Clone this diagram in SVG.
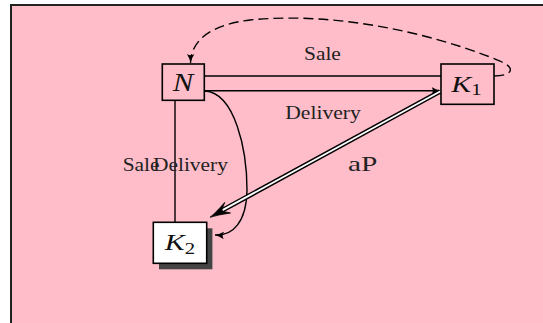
<svg xmlns="http://www.w3.org/2000/svg" width="543" height="323" viewBox="0 0 543 323">
<style>
.box{stroke:#000;stroke-width:1.6}
.ln{fill:none;stroke:#000;stroke-width:1.4}
.lbl{font-family:"Liberation Serif","Times New Roman",serif;font-size:18px;fill:#222}
.math{font-family:"Liberation Serif","Times New Roman",serif;font-style:italic;fill:#111}
.sub{font-style:normal}
</style>
<defs>
<marker id="arr" markerUnits="userSpaceOnUse" viewBox="0 0 10 10" refX="10" refY="5" markerWidth="9" markerHeight="9" orient="auto">
<path d="M0,0.8 Q5,4 10,5 Q5,6 0,9.2 Q3,5 0,0.8 Z" fill="#000"/>
</marker>
</defs>
<rect x="0" y="0" width="543" height="323" fill="#fff"/>
<rect id="frame" x="11" y="5" width="600" height="400" fill="#FFBDC9" stroke="#222" stroke-width="2"/>
<g id="connectors">
<line class="ln" x1="204" y1="76" x2="441" y2="76"/>
<line class="ln" x1="204" y1="90.7" x2="440.5" y2="90.7" marker-end="url(#arr)"/>
<line class="ln" x1="175" y1="100" x2="175" y2="222.3"/>
<path class="ln" d="M205,91 C235,93 247,150 247,190 C246.5,222 233,236 215,235" marker-end="url(#arr)"/>
<path class="ln" stroke-dasharray="10 5" stroke-width="1.5" d="M494,76 C505,76 512,73 510,68 C508,64 500,61 490,57 C420,30 330,12 250,20 C215,24 191,38 190.5,63" marker-end="url(#arr)"/>
<g id="aP-edge">
<line x1="440" y1="91.5" x2="221" y2="211" stroke="#000" stroke-width="4.8"/>
<line x1="441" y1="91" x2="222.5" y2="210.2" stroke="#fff" stroke-width="1.9"/>
<path d="M210,217.3 Q216.3,212.2 224.7,202.4 L221.4,211.1 L230.5,213 Q217.7,214.8 210,217.3 Z" fill="#000" stroke="#000" stroke-width="0.8" stroke-linejoin="round"/>
</g>
</g>
<g id="labels">
<text class="lbl" text-anchor="middle" transform="translate(322.4,60) scale(1.19,1)">Sale</text>
<text class="lbl" text-anchor="middle" transform="translate(323,119) scale(1.2,1)">Delivery</text>
<text class="lbl" transform="translate(122.7,171) scale(1.19,1)">Sale</text>
<text class="lbl" transform="translate(153,171) scale(1.19,1)">Delivery</text>
<text class="lbl" style="font-size:21px" transform="translate(348,171) scale(1.4,1)">aP</text>
</g>
<g id="node-N">
<rect class="box" x="162.3" y="64" width="42" height="36.3" fill="#FFBDC9"/>
<text class="math" font-size="25" text-anchor="middle" transform="translate(183,91) scale(1.23,1)">N</text>
</g>
<g id="node-K1">
<rect class="box" x="441" y="64" width="53" height="40.3" fill="#FFBDC9"/>
<text class="math" font-size="23" text-anchor="middle" transform="translate(466.5,91.5) scale(1.3,1)">K<tspan class="sub" font-size="16" dy="3">1</tspan></text>
</g>
<g id="node-K2">
<rect x="159" y="228.3" width="53.4" height="41" fill="#444"/>
<rect class="box" x="153.3" y="222.3" width="53.4" height="41" fill="#fff"/>
<text class="math" font-size="23" text-anchor="middle" transform="translate(180,250) scale(1.3,1)">K<tspan class="sub" font-size="16" dy="4">2</tspan></text>
</g>
</svg>
